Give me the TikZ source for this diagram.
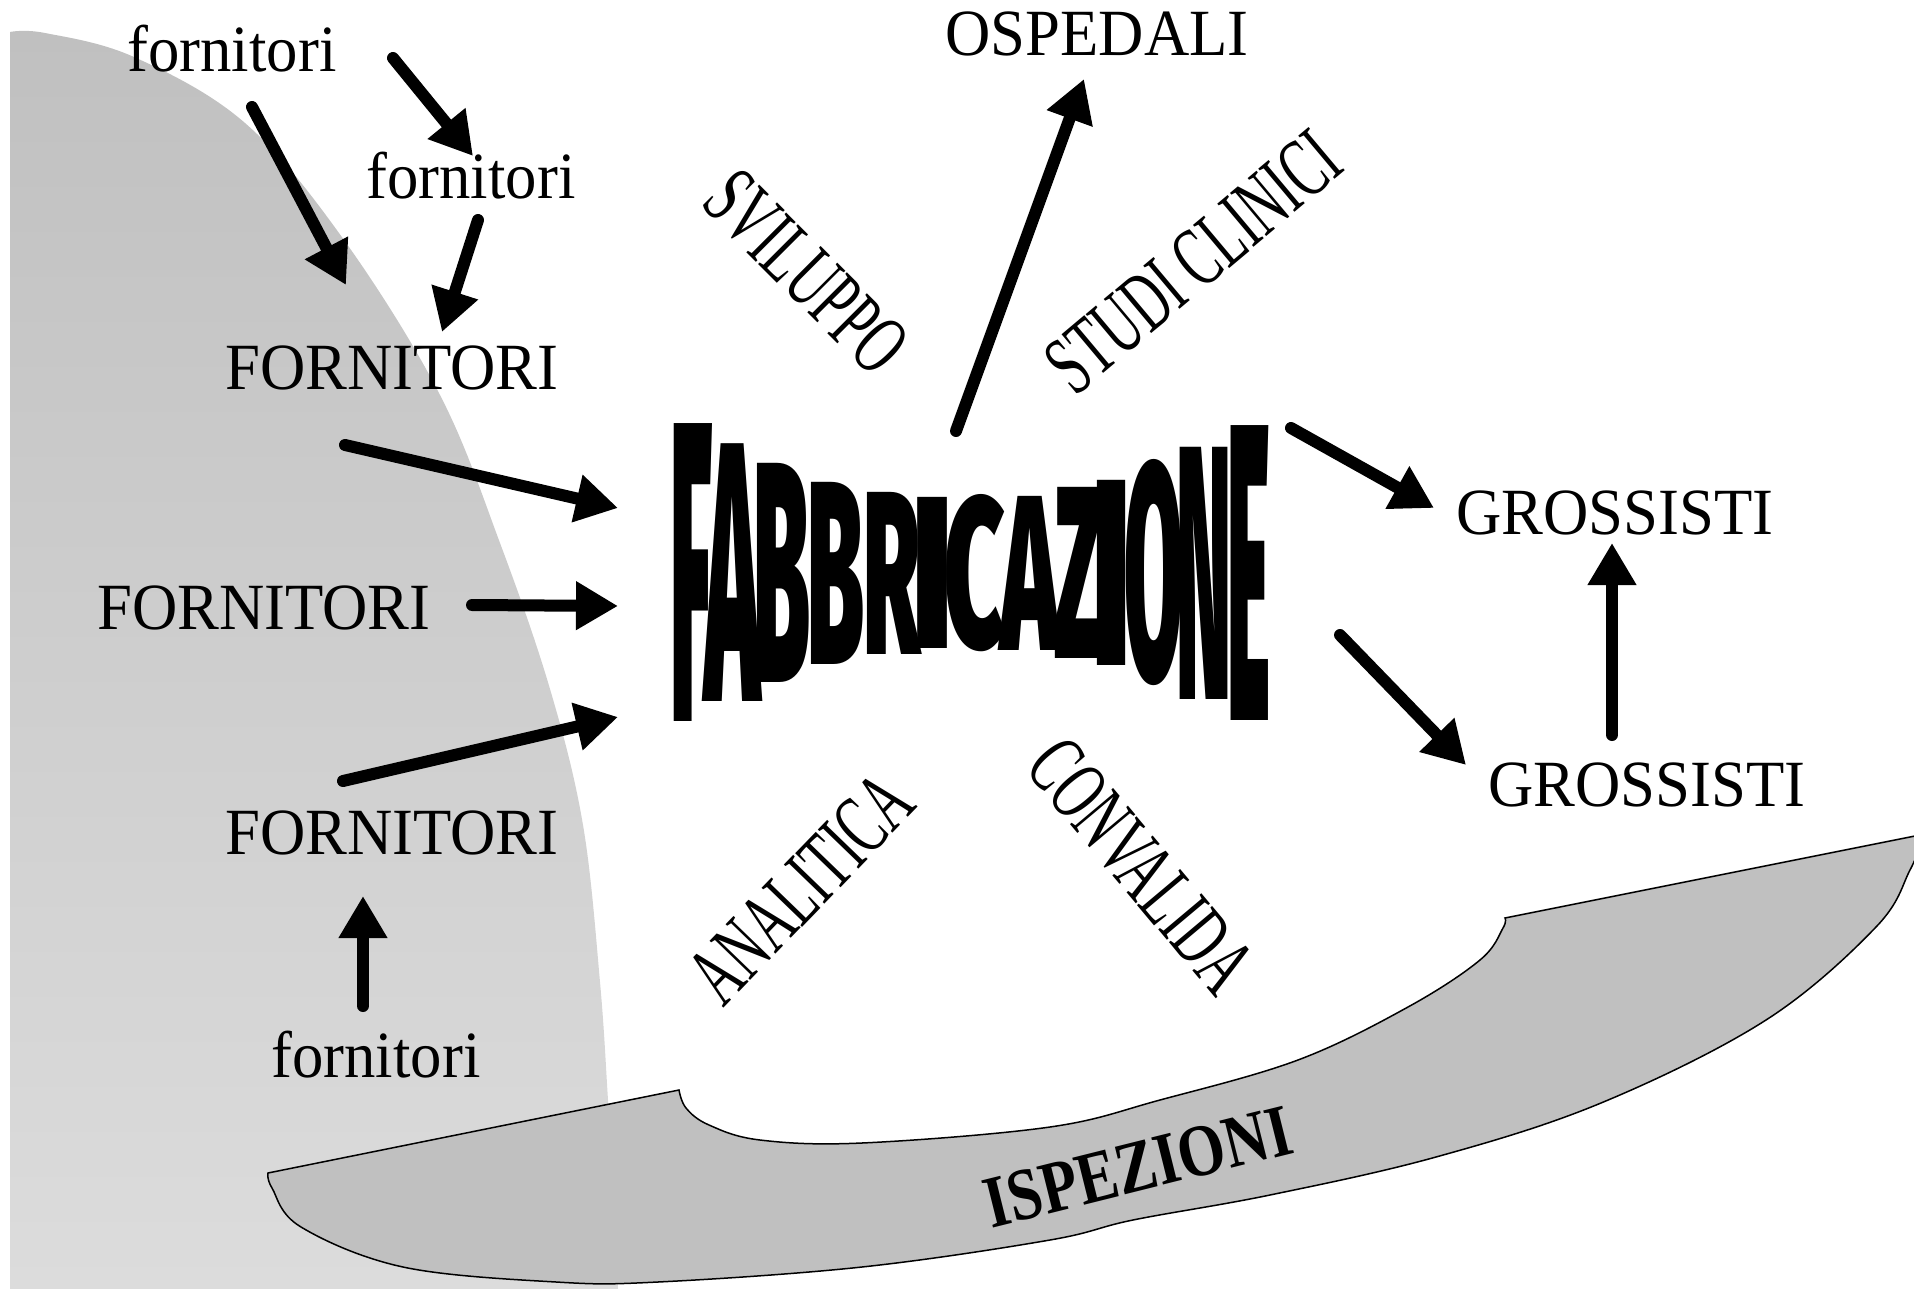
\documentclass[tikz,border=0pt]{standalone}
\usepackage{graphicx}
\usepackage{fontspec}
\setmainfont{Liberation Serif}[FakeStretch=0.95]
\newfontfamily\narrowfont{Liberation Serif}[FakeStretch=0.6]
\newfontfamily\inspfont{Liberation Serif Bold}[FakeStretch=0.82]
\IfFontExistsTF{Fira Sans Black}{\newfontfamily\fabfont{Fira Sans Black}}{\newfontfamily\fabfont{Liberation Sans Bold}[FakeBold=3]}
\usetikzlibrary{arrows.meta}
\definecolor{shadetop}{HTML}{C0C0C0}
\definecolor{shadebot}{HTML}{DCDCDC}
\definecolor{bandgray}{HTML}{C0C0C0}
\tikzset{
  arr/.style={line width=12pt, line cap=round, -{Triangle[length=42pt,width=46pt]}},
  word/.style={inner sep=0pt, font=\fontsize{66}{70}\selectfont},
  tiltword/.style={inner sep=0pt, font=\narrowfont\fontsize{86}{90}\selectfont},
}
\begin{document}
\begin{tikzpicture}[x=1pt, y=-1pt]
\useasboundingbox (0,0) rectangle (1914,1289);
\shade[top color=shadetop, bottom color=shadebot] (10,1289) -- (10,32) -- plot[smooth, tension=.6] coordinates {(10,32) (45,33) (134,57) (245,123) (344,240) (440,395) (500,543) (550,689) (583,825) (600,982) (608,1100) (614,1200) (618,1289)} -- cycle;
\draw[fill=bandgray, line width=1.5pt] (268,1173) -- (679,1090) -- plot[smooth, tension=.6] coordinates {(679,1090) (686,1108) (709,1125) (760,1140) (862,1143) (1050,1127) (1160,1100) (1298,1060) (1408,1007) (1480,960) (1503,928) (1505,918)} -- (1925,834) -- plot[smooth, tension=.6] coordinates {(1925,834) (1910,870) (1876,927) (1766,1020) (1601,1103) (1436,1157) (1270,1195) (1133,1220) (1050,1240) (862,1267) (658,1282) (556,1282) (403,1267) (301,1227) (272,1188) (268,1173)} -- cycle;
\node[inner sep=0pt, rotate=14, font=\inspfont\fontsize{74}{78}\selectfont] (insp) at (1138,1167) {ISPEZIONI};
% bow-shaped title, one letter at a time
\foreach \cx/\w/\h/\ch [count=\i] in {692/42/297/F, 733/56/257/A, 782/57/219/B, 836/57/182/B, 891.5/57/162/R, 933/42/151/I, 975/61/153/C, 1030/59/154/A, 1078/47/171/Z, 1111.5/40/185/I, 1154/59/220/O, 1204/55/252/N, 1249/43/294/E}
{
    \node[inner sep=0pt] (fab\i) at (\cx,573) {\resizebox{\w pt}{\h pt}{\fabfont \ch}};
}
\node[word] (fA) at (232,49) {fornitori};
\node[word] (fB) at (471,176) {fornitori};
\node[word] (F1) at (392,368) {FORNITORI};
\node[word] (F2) at (264,608) {FORNITORI};
\node[word] (F3) at (392,833) {FORNITORI};
\node[word] (fC) at (376,1055) {fornitori};
\node[word] (osp) at (1097,34) {OSPEDALI};
\node[word] (g1) at (1615,513) {GROSSISTI};
\node[word] (g2) at (1647,785) {GROSSISTI};
\node[tiltword, rotate=-45] (dev) at (806,272) {SVILUPPO};
\node[tiltword, rotate=40] (clin) at (1193,262) {STUDI CLINICI};
\node[tiltword, rotate=46] (anal) at (801,888) {ANALITICA};
\node[tiltword, rotate=-50] (conv) at (1141,866) {CONVALIDA};
\foreach \n/\sx/\sy/\ex/\ey in {1/252/107/346/285, 2/393/58/473/156, 3/478/220/442/332, 4/345/445/618/508, 5/472/605/618/606, 6/343/781/618/717, 7/363/1006/363/896, 8/956/431/1084/79, 9/1291/428/1434/508, 10/1340/635/1466/765, 11/1612/735/1612/543}
{
    \coordinate (s\n) at (\sx,\sy);
    \coordinate (e\n) at (\ex,\ey);
    \draw[arr] (s\n) -- (e\n);
}
\end{tikzpicture}
\end{document}
